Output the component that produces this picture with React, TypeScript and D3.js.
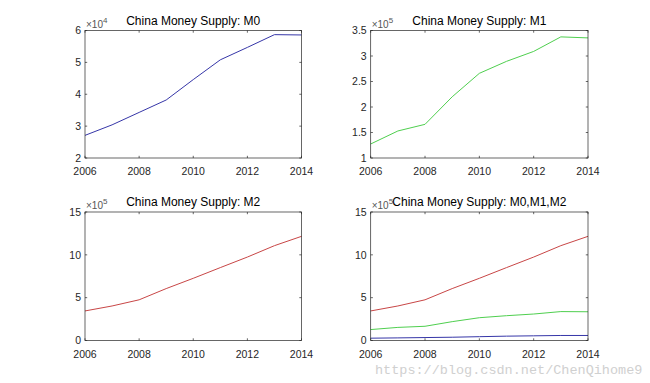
import React from "react";
import * as d3 from "d3";

const years = [2006, 2007, 2008, 2009, 2010, 2011, 2012, 2013, 2014];
const m0 = [27100, 30400, 34300, 38200, 44600, 50800, 54700, 58700, 58600];
const m1 = [127500, 153000, 166000, 220000, 266000, 289500, 309000, 337500, 335500];
const m2 = [345000, 403000, 475000, 606000, 726000, 851000, 974000, 1107000, 1216000];
const xTicks = [2006, 2008, 2010, 2012, 2014];

const W = 650, H = 383;
const FONT = "'Liberation Sans', Arial, Helvetica, sans-serif";
const AX = "#262626";
const C0 = "#3636a8", C1 = "#4fcf4f", C2 = "#c84646";

type Series = { values: number[]; color: string };
type PanelProps = {
  box: [number, number, number, number]; // left, right, top, bottom in px
  title: string;
  series: Series[];
  yDomain: [number, number];
  yTicks: number[];
  exp: number;
};

function Panel({ box, title, series, yDomain, yTicks, exp }: PanelProps) {
  const [x0, x1, yt, yb] = box;
  const x = d3.scaleLinear().domain([2006, 2014]).range([x0, x1]);
  const y = d3.scaleLinear().domain(yDomain).range([yb, yt]);
  const scale = Math.pow(10, exp);
  const tl = 2.2;
  return (
    <g fontFamily={FONT}>
      {series.map((s, i) => {
        const line = d3
          .line<number>()
          .x((_, j) => x(years[j]))
          .y((v) => y(v / scale));
        return <path key={i} d={line(s.values) || ""} fill="none" stroke={s.color} strokeWidth={1} />;
      })}
      <rect x={x0} y={yt} width={x1 - x0} height={yb - yt} fill="none" stroke={AX} strokeWidth={0.7} />
      {xTicks.map((t) => (
        <g key={t}>
          <line x1={x(t)} x2={x(t)} y1={yb} y2={yb - tl} stroke={AX} strokeWidth={0.7} />
          <line x1={x(t)} x2={x(t)} y1={yt} y2={yt + tl} stroke={AX} strokeWidth={0.7} />
          <text x={x(t)} y={yb + 17} textAnchor="middle" fontSize={10.5} fill={AX}>
            {t}
          </text>
        </g>
      ))}
      {yTicks.map((t) => (
        <g key={t}>
          <line x1={x0} x2={x0 + tl} y1={y(t)} y2={y(t)} stroke={AX} strokeWidth={0.7} />
          <line x1={x1} x2={x1 - tl} y1={y(t)} y2={y(t)} stroke={AX} strokeWidth={0.7} />
          <text x={x0 - 4} y={y(t) + 3.8} textAnchor="end" fontSize={10.5} fill={AX}>
            {String(t)}
          </text>
        </g>
      ))}
      <text x={x0 + 1} y={yt - 3} fontSize={10} fill="#555">
        ×10
        <tspan dy={-5} fontSize={8}>
          {exp}
        </tspan>
      </text>
      <text x={(x0 + x1) / 2} y={yt - 6} textAnchor="middle" fontSize={12} fill="#000">
        {title}
      </text>
    </g>
  );
}

export default function App() {
  return (
    <svg
      width={W}
      height={H}
      style={{ position: "absolute", left: 0, top: 0, background: "#fff" }}
    >
      <rect width={W} height={H} fill="#fff" />
      <Panel
        box={[85, 301.5, 30.5, 158]}
        title="China Money Supply: M0"
        series={[{ values: m0, color: C0 }]}
        yDomain={[2, 6]}
        yTicks={[2, 3, 4, 5, 6]}
        exp={4}
      />
      <Panel
        box={[370.7, 588, 30.5, 158]}
        title="China Money Supply: M1"
        series={[{ values: m1, color: C1 }]}
        yDomain={[1, 3.5]}
        yTicks={[1, 1.5, 2, 2.5, 3, 3.5]}
        exp={5}
      />
      <Panel
        box={[85, 301.5, 212, 340.5]}
        title="China Money Supply: M2"
        series={[{ values: m2, color: C2 }]}
        yDomain={[0, 15]}
        yTicks={[0, 5, 10, 15]}
        exp={5}
      />
      <Panel
        box={[370.7, 588, 212, 340.5]}
        title="China Money Supply: M0,M1,M2"
        series={[
          { values: m0, color: C0 },
          { values: m1, color: C1 },
          { values: m2, color: C2 },
        ]}
        yDomain={[0, 15]}
        yTicks={[0, 5, 10, 15]}
        exp={5}
      />
      <text
        x={375}
        y={374}
        fontFamily="'Liberation Mono', 'DejaVu Sans Mono', monospace"
        fontSize={13.5}
        fill="#d0d0d0"
      >
        https://blog.csdn.net/ChenQihome9
      </text>
    </svg>
  );
}
